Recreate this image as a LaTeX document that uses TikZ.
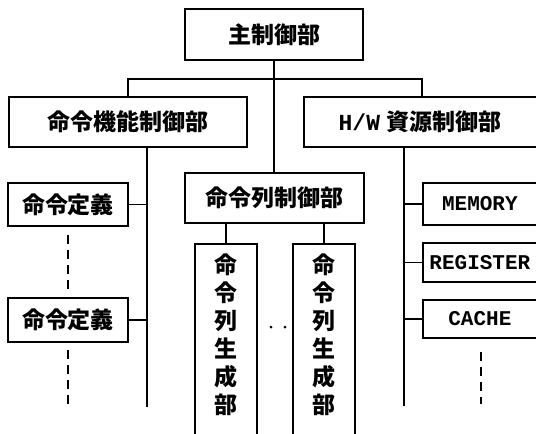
\documentclass[tikz,border=0pt]{standalone}
\usepackage{fontspec}
\newfontfamily\cjk{Noto Sans CJK JP}
\setmonofont{Liberation Mono}
\begin{document}
\begin{tikzpicture}[x=1pt,y=-1pt,line width=1.8pt,
  box/.style={draw,line width=1.8pt,inner sep=0pt,font=\cjk\bfseries\fontsize{23}{23}\selectfont},
  hwbox/.style={draw,line width=1.8pt,inner sep=0pt,font=\ttfamily\bfseries\fontsize{21}{21}\selectfont},
  vbox/.style={draw,line width=1.8pt,inner sep=0pt,anchor=north},
  vtext/.style={align=center,anchor=north,inner sep=0pt,font=\cjk\bfseries\fontsize{23}{28}\selectfont},
  dashline/.style={line width=1.8pt,dash pattern=on 9pt off 6pt}]
\clip (0,0) rectangle (536,434);
\fill[white] (0,0) rectangle (536,434);
% main nodes
\node[box,minimum width=178pt,minimum height=51pt] (top) at (274,34.5) {主制御部};
\node[box,minimum width=238pt,minimum height=50pt] (left) at (128,122) {命令機能制御部};
\node[box,minimum width=240pt,minimum height=50pt,anchor=west] (right) at (303,122) {\hspace*{-2pt}\ttfamily H/W\hspace{6pt}\cjk 資源制御部\hspace*{6pt}};
\node[box,minimum width=179pt,minimum height=50pt] (mid) at (274.5,198) {命令列制御部};
\node[box,minimum width=120pt,minimum height=43pt] (def1) at (68,204.5) {命令定義};
\node[box,minimum width=120pt,minimum height=44pt] (def2) at (68,320) {命令定義};
\node[vbox,minimum width=62pt,minimum height=200pt] (gen1) at (226,243) {};
\node[vbox,minimum width=62pt,minimum height=200pt] (gen2) at (324,243) {};
\node[vtext] (gen1t) at (226,253) {命\\令\\列\\生\\成\\部};
\node[vtext] (gen2t) at (324,253) {命\\令\\列\\生\\成\\部};
\node[hwbox,minimum width=124pt,minimum height=42pt,anchor=west] (mem) at (422,204) {\hspace*{-10pt}MEMORY};
\node[hwbox,minimum width=124pt,minimum height=39pt,anchor=west] (reg) at (422,262.5) {\hspace*{-10pt}REGISTER};
\node[hwbox,minimum width=124pt,minimum height=38pt,anchor=west] (cache) at (422,319) {\hspace*{-10pt}CACHE};
% coordinates
\coordinate (barL) at (128,79);
\coordinate (barR) at (422,79);
\coordinate (lv) at (147,147);
\coordinate (lvend) at (147,407);
\coordinate (rv) at (404,147);
\coordinate (rvend) at (404,406);
% connectors
\draw (top.south) -- (top.south |- mid.north);
\draw (left.north -| barL) -- (barL) -- (barR) -- (right.north -| barR);
\draw (lv) -- (lvend);
\draw (rv) -- (rvend);
\draw (def1.east) -- (def1.east -| lv);
\draw (def2.east) -- (def2.east -| lv);
\draw (mid.south -| gen1.north) -- (gen1.north);
\draw (mid.south -| gen2.north) -- (gen2.north);
\draw (mem.west) -- (mem.west -| rv);
\draw (reg.west) -- (reg.west -| rv);
\draw (cache.west) -- (cache.west -| rv);
% dashed continuations
\coordinate (d1a) at (68,235); \coordinate (d1b) at (68,291);
\coordinate (d2a) at (68,350); \coordinate (d2b) at (68,407);
\coordinate (d3a) at (481,352); \coordinate (d3b) at (481,404);
\draw[dashline] (d1a) -- (d1b);
\draw[dashline] (d2a) -- (d2b);
\draw[dashline] (d3a) -- (d3b);
% dots
\node[circle,fill,inner sep=0pt,minimum size=3pt] (dotA) at (271,327) {};
\node[circle,fill,inner sep=0pt,minimum size=3pt] (dotB) at (285,327) {};
\end{tikzpicture}
\end{document}
